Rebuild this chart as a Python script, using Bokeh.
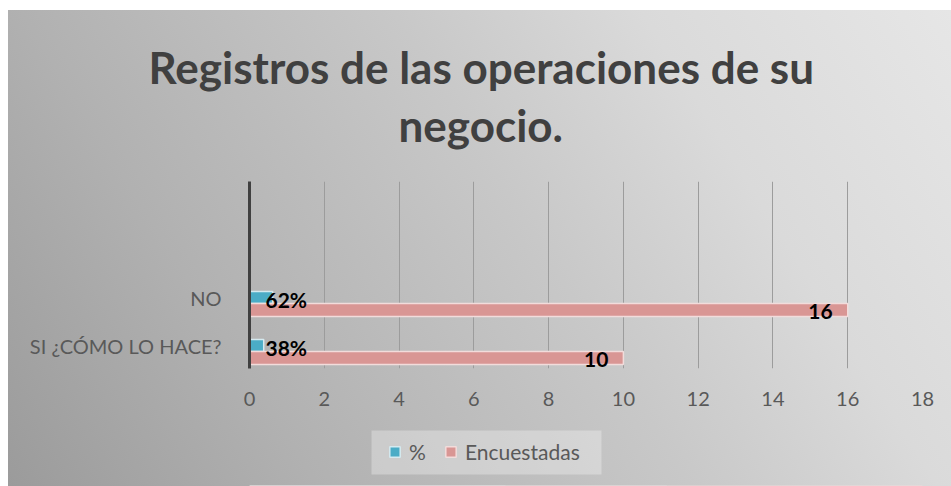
from bokeh.plotting import figure
from bokeh.layouts import column
from bokeh.models import (ColumnDataSource, FixedTicker, Legend, LegendItem, Title,
                          BoxAnnotation)
from bokeh.core.properties import value
from bokeh.embed import file_html
from bokeh.resources import INLINE

# ---- data ----
categories = ["SI ¿CÓMO LO HACE?", "NO"]
pct = [0.38, 0.62]
pct_labels = ["38%", "62%"]
encuestadas = [10, 16]
x_ticks = [0, 2, 4, 6, 8, 10, 12, 14, 16, 18]
title_lines = ["Registros de las operaciones de su", "negocio."]
series_names = ["%", "Encuestadas"]

W = 951
H1, H2 = 416, 70                        # main chart / legend strip
FL, FR, FT, FB = 249, 922, 181, 368     # frame edges in page pixels
FONT = "Lato"
PCT_COL, PCT_LINE = "#4bacc6", "#d5eaf0"
ENC_COL, ENC_LINE = "#d99694", "#f2dcdb"

ypos = list(range(len(categories)))
src = ColumnDataSource(dict(
    y_pct=[y for y in ypos],
    y_enc=[y - 0.26 for y in ypos],
    pct=pct, pct_label=pct_labels,
    enc=encuestadas, enc_label=[str(v) for v in encuestadas],
))

p = figure(width=W, height=H1, output_backend="svg", toolbar_location=None,
           x_range=(0, 18), y_range=(-0.479, 3.417),
           min_border_left=FL, min_border_right=W - FR,
           min_border_top=FT, min_border_bottom=H1 - FB,
           background_fill_alpha=0, border_fill_alpha=0,
           outline_line_color=None)

p.hbar(y="y_pct", left=0, right="pct", height=0.25, source=src,
       fill_color=PCT_COL, line_color=PCT_LINE, line_width=1.5)
p.hbar(y="y_enc", left=0, right="enc", height=0.27, source=src,
       fill_color=ENC_COL, line_color=ENC_LINE, line_width=1.5)

p.text(x=0, y="y_pct", text="pct_label", source=src, x_offset=16, y_offset=2,
       text_align="left", text_baseline="middle", text_font=value(FONT),
       text_font_style="bold", text_font_size="21px", text_color="#000000")
p.text(x="enc", y="y_enc", text="enc_label", source=src, x_offset=-15, y_offset=2,
       text_align="right", text_baseline="middle", text_font=value(FONT),
       text_font_style="bold", text_font_size="21px", text_color="#000000")

# title: two centred lines stacked above the frame
t2 = Title(text=title_lines[1], align="left", offset=398 - FL, standoff=62,
           text_font=FONT, text_font_size="44px", text_font_style="bold",
           text_color="#404040")
p.add_layout(t2, "above")
p.title.text = title_lines[0]
p.title.align = "left"
p.title.offset = 148 - FL
p.title.standoff = -54
p.title.text_font = FONT
p.title.text_font_size = "44px"
p.title.text_font_style = "bold"
p.title.text_color = "#404040"

# axes
xa = p.xaxis[0]
xa.ticker = FixedTicker(ticks=x_ticks)
xa.axis_line_color = None
xa.major_tick_line_color = None
xa.minor_tick_line_color = None
xa.major_label_standoff = 17
xa.major_label_text_font = FONT
xa.major_label_text_font_size = "20px"
xa.major_label_text_color = "#595959"

ya = p.yaxis[0]
ya.ticker = FixedTicker(ticks=ypos)
ya.major_label_overrides = {y: c for y, c in zip(ypos, categories)}
ya.axis_line_color = "#404040"
ya.axis_line_width = 3
ya.major_tick_line_color = None
ya.minor_tick_line_color = None
ya.major_label_standoff = 22
ya.major_label_text_font = FONT
ya.major_label_text_font_size = "20px"
ya.major_label_text_color = "#595959"

p.ygrid.visible = False
p.xgrid.grid_line_color = "#9c9c9c"
p.xgrid.grid_line_width = 1

# legend strip (own small figure so the legend is not clipped)
pl = figure(width=W, height=H2, output_backend="svg", toolbar_location=None,
            x_axis_type=None, y_axis_type=None, x_range=(0, 1), y_range=(50, 51),
            min_border=0, background_fill_alpha=0, border_fill_alpha=0,
            outline_line_color=None)
pl.grid.visible = False
lr1 = pl.hbar(y="y_pct", left=0, right="pct", height=0.25, source=src,
              fill_color=PCT_COL, line_color=PCT_LINE, line_width=1.5)
lr2 = pl.hbar(y="y_enc", left=0, right="enc", height=0.27, source=src,
              fill_color=ENC_COL, line_color=ENC_LINE, line_width=1.5)
# legend box (screen units, relative to the strip's frame)
pl.add_layout(BoxAnnotation(left=371 - FL, right=601 - FL, bottom=12, top=56,
                            left_units="screen", right_units="screen",
                            bottom_units="screen", top_units="screen",
                            fill_color="#ffffff", fill_alpha=0.3,
                            line_color=None, level="underlay"))
legend = Legend(items=[LegendItem(label=series_names[0], renderers=[lr1]),
                       LegendItem(label=series_names[1], renderers=[lr2])],
                orientation="horizontal", location=(388 - FL, 22), margin=0,
                background_fill_alpha=0, border_line_color=None,
                glyph_width=13, glyph_height=13,
                label_standoff=8, spacing=15, padding=0,
                label_text_font=FONT, label_text_font_size="21px",
                label_text_color="#595959")
pl.add_layout(legend, "center")

layout = column(p, pl, spacing=0)
layout.styles = {
    "background": "linear-gradient(58deg, #9b9b9b 0%, #b1b1b1 25%, #c8c8c8 55%, "
                  "#dadada 75%, #e6e6e6 100%) 8px 10px / calc(100% - 8px) "
                  "calc(100% - 10px) no-repeat, #ffffff",
}

open("out.html", "w").write(file_html(layout, INLINE))
